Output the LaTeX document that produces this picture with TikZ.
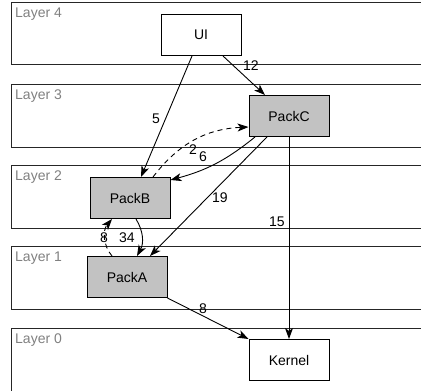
\documentclass[tikz,border=0pt]{standalone}
\usepackage{fontspec}
\setmainfont{Liberation Sans}
\usetikzlibrary{arrows.meta}
\definecolor{layergray}{RGB}{128,128,128}
\definecolor{packfill}{RGB}{194,194,194}
\tikzset{
  layerbox/.style={draw=black!85, line width=1pt},
  layerlbl/.style={text=layergray, font=\fontsize{14}{16}\selectfont, anchor=west, inner sep=0pt},
  pkg/.style={draw=black, line width=1pt, minimum width=80pt, minimum height=41pt, inner sep=0pt, font=\fontsize{14}{16}\selectfont},
  graypkg/.style={pkg, fill=packfill},
  dep/.style={draw=black, line width=0.9pt, -{Stealth[length=11pt,width=8pt,inset=3pt]}},
  dashdep/.style={dep, dash pattern=on 5pt off 4pt},
  lbl/.style={font=\fontsize{14}{16}\selectfont, inner sep=0pt}
}
\begin{document}
\begin{tikzpicture}[x=1pt,y=1pt]
\useasboundingbox (0,0) rectangle (421,391);
% layers
\draw[layerbox] (11,326) rectangle (440,388);
\draw[layerbox] (11,243) rectangle (440,306);
\draw[layerbox] (11,162) rectangle (440,225);
\draw[layerbox] (11,81) rectangle (440,144);
\draw[layerbox] (11,-2) rectangle (440,62);
\node[layerlbl] (l4) at (15,377) {Layer 4};
\node[layerlbl] (l3) at (15,295) {Layer 3};
\node[layerlbl] (l2) at (15,214) {Layer 2};
\node[layerlbl] (l1) at (15,133) {Layer 1};
\node[layerlbl] (l0) at (15,51) {Layer 0};
% packages
\node[pkg, fill=white] (UI) at (201,356) {UI};
\node[graypkg] (C) at (289,275) {PackC};
\node[graypkg] (B) at (130,193) {PackB};
\node[graypkg] (A) at (127,114) {PackA};
\node[pkg, fill=white] (K) at (289,31) {Kernel};
% dependencies
\draw[dep] ([xshift=22pt]UI.south) -- ([xshift=-24pt]C.north);
\draw[dep] ([xshift=-9pt]UI.south) -- ([xshift=11pt]B.north);
\draw[dashdep] ([xshift=23pt]B.north) to[bend left=25] ([yshift=-11pt]C.west);
\draw[dep] ([xshift=-34pt]C.south) to[bend left=12] ([yshift=18pt]B.east);
\draw[dep] ([xshift=-22pt]C.south) -- ([xshift=23pt]A.north);
\draw[dep] (C.south) -- (K.north);
\draw[dep] ([xshift=6pt]B.south) to[bend left=30] ([xshift=10pt]A.north);
\draw[dashdep] ([xshift=-15pt]A.north) to[bend left=40] ([xshift=-18pt]B.south);
\draw[dep] (A.south east) -- (K.north west);
% labels
\node[lbl] (t12) at (251,325) {12};
\node[lbl] (t5) at (156,272) {5};
\node[lbl] (t2) at (193,241) {2};
\node[lbl] (t6) at (203,234) {6};
\node[lbl] (t19) at (220,193) {19};
\node[lbl] (t15) at (277,169) {15};
\node[lbl] (t8a) at (104,153) {8};
\node[lbl] (t34) at (127,153) {34};
\node[lbl] (t8b) at (203,82) {8};
\end{tikzpicture}
\end{document}
